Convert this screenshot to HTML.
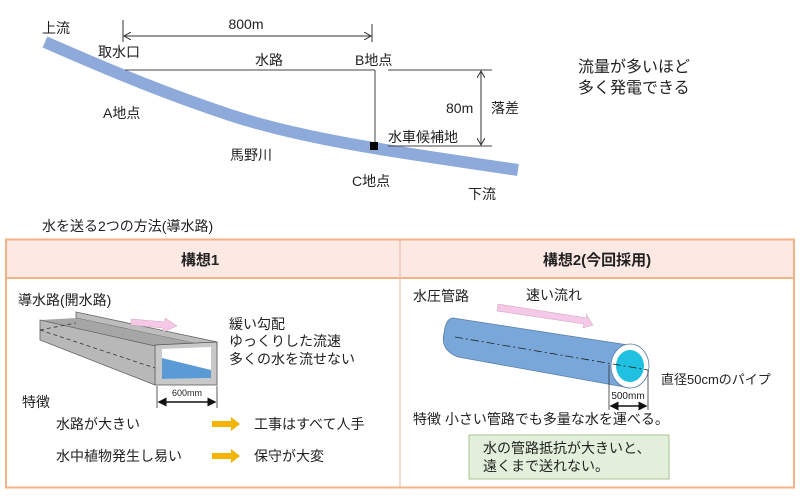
<!DOCTYPE html>
<html><head><meta charset="utf-8"><style>
body{margin:0;background:#fff;width:800px;height:493px;overflow:hidden;font-family:"Liberation Sans","Noto Sans CJK JP",sans-serif;}
svg text{font-family:"Liberation Sans","Noto Sans CJK JP",sans-serif;fill:#222;}
</style></head><body>
<svg width="800" height="493" viewBox="0 0 800 493" xmlns="http://www.w3.org/2000/svg">
<defs>
<marker id="ah" markerWidth="8" markerHeight="8" refX="7" refY="4" orient="auto"><path d="M0,0 L7,4 L0,8" fill="none" stroke="#333" stroke-width="1"/></marker>
<marker id="ahs" markerWidth="8" markerHeight="8" refX="1" refY="4" orient="auto"><path d="M8,0 L1,4 L8,8" fill="none" stroke="#333" stroke-width="1"/></marker>
<marker id="ab" markerWidth="6" markerHeight="6" refX="5" refY="3" orient="auto"><path d="M0,0 L6,3 L0,6z" fill="#111"/></marker>
<marker id="abs" markerWidth="6" markerHeight="6" refX="1" refY="3" orient="auto"><path d="M6,0 L0,3 L6,6z" fill="#111"/></marker>
</defs>
<path d="M45,42 C120,75 170,95 230,115 C300,138 380,150 518,170" fill="none" stroke="#8eaadb" stroke-width="12"/>
<text x="42" y="33" font-size="14">上流</text>
<text x="98" y="57" font-size="14">取水口</text>
<line x1="123" y1="20" x2="123" y2="42" stroke="#333"/>
<line x1="372" y1="24" x2="372" y2="42" stroke="#333"/>
<line x1="124" y1="36" x2="371" y2="36" stroke="#333" marker-end="url(#ah)" marker-start="url(#ahs)"/>
<text x="246" y="29" font-size="14" text-anchor="middle">800m</text>
<text x="255" y="65" font-size="14">水路</text>
<text x="355" y="65" font-size="14">B地点</text>
<line x1="125" y1="70" x2="375" y2="70" stroke="#444"/>
<line x1="375" y1="70" x2="375" y2="145" stroke="#444"/>
<rect x="370" y="142" width="8" height="8" fill="#000"/>
<line x1="388" y1="70" x2="492" y2="70" stroke="#444"/>
<line x1="388" y1="146" x2="492" y2="146" stroke="#444"/>
<line x1="481" y1="71" x2="481" y2="145" stroke="#333" marker-end="url(#ah)" marker-start="url(#ahs)"/>
<text x="446" y="113" font-size="14">80m</text>
<text x="491" y="113" font-size="14">落差</text>
<text x="388" y="142" font-size="14">水車候補地</text>
<text x="103" y="118" font-size="14">A地点</text>
<text x="230" y="160" font-size="14">馬野川</text>
<text x="352" y="186" font-size="14">C地点</text>
<text x="468" y="199" font-size="14">下流</text>
<text x="578" y="72" font-size="16">流量が多いほど</text>
<text x="578" y="93" font-size="16">多く発電できる</text>
<text x="42" y="231" font-size="14">水を送る2つの方法(導水路)</text>
<rect x="6" y="239.5" width="788" height="38" fill="#fde9e3"/>
<rect x="6" y="239.5" width="788" height="248" fill="none" stroke="#f4b183" stroke-width="2"/>
<line x1="6" y1="278" x2="794" y2="278" stroke="#f4b183" stroke-width="2"/>
<line x1="400" y1="239" x2="400" y2="488" stroke="#e3b8a4" stroke-width="1"/>
<text x="200" y="265" font-size="15" font-weight="bold" text-anchor="middle">構想1</text>
<text x="597" y="265" font-size="15" font-weight="bold" text-anchor="middle">構想2(今回採用)</text>
<!-- left cell: channel -->
<text x="18" y="305" font-size="14">導水路(開水路)</text>
<polygon points="76,312 217,342 217,348 76,318" fill="#bdbdbd" stroke="#666" stroke-width="0.8"/>
<polygon points="40,320 76,318 217,348 162,350" fill="#a6a6a6"/>
<polygon points="155,345 217,342 217,385 155,385" fill="#c8c8c8" stroke="#555" stroke-width="0.8"/>
<polygon points="162,349 211,347 211,378 162,379" fill="#fff"/>
<polygon points="162,358 211,370 211,378 162,379" fill="#5b9bd5"/>
<polygon points="40,320 155,346 155,385 40,340" fill="#b8b8b8" stroke="#666" stroke-width="0.8"/>
<line x1="40" y1="330" x2="155" y2="368" stroke="#333" stroke-dasharray="4,3" stroke-width="0.8"/>
<line x1="40" y1="330" x2="76" y2="323" stroke="#333" stroke-dasharray="4,3" stroke-width="0.8"/>
<path d="M131,319 L165,322 L165,318 L177,326 L163,332 L163,328 L131,325z" fill="#f6c8e8" stroke="#c9a3c0" stroke-width="0.5"/>
<text x="229" y="329" font-size="14">緩い勾配</text>
<text x="229" y="346" font-size="14">ゆっくりした流速</text>
<text x="229" y="364" font-size="14">多くの水を流せない</text>
<line x1="157" y1="386" x2="157" y2="408" stroke="#333" stroke-width="0.8"/>
<line x1="217" y1="386" x2="217" y2="408" stroke="#333" stroke-width="0.8"/>
<line x1="159" y1="402" x2="215" y2="402" stroke="#111" stroke-width="1.5" marker-end="url(#ab)" marker-start="url(#abs)"/>
<text x="187" y="396" font-size="9" text-anchor="middle">600mm</text>
<text x="22" y="407" font-size="14">特徴</text>
<text x="56" y="429" font-size="14">水路が大きい</text>
<text x="56" y="461" font-size="14">水中植物発生し易い</text>
<polygon points="212,421 231,421 231,417 240,424 231,431 231,427 212,427" fill="#f4b400"/>
<polygon points="212,453 231,453 231,449 240,456 231,463 231,459 212,459" fill="#f4b400"/>
<text x="254" y="429" font-size="14">工事はすべて人手</text>
<text x="254" y="461" font-size="14">保守が大変</text>
<!-- right cell -->
<text x="413" y="301" font-size="14">水圧管路</text>
<text x="526" y="300" font-size="14">速い流れ</text>
<path d="M498,304 L587,318 L586,314 L593,325 L583,328 L584,324 L497,311z" fill="#f6c8e8" stroke="#c9a3c0" stroke-width="0.5"/>
<path d="M453,318 L628,345 L630,388 L458,357 Q440,350 444,333 Q446,318 453,318z" fill="#79a7d9" stroke="#5b7fa8" stroke-width="0.8"/>
<ellipse cx="630" cy="366" rx="19" ry="22" fill="#fff" stroke="#5b7fa8" stroke-width="0.8"/>
<ellipse cx="630" cy="366" rx="14" ry="16" fill="#1fc0e0"/>
<line x1="455" y1="337" x2="648" y2="370" stroke="#222" stroke-dasharray="8,3,2,3" stroke-width="0.8"/>
<line x1="609" y1="365" x2="609" y2="410" stroke="#333" stroke-width="0.8"/>
<line x1="648" y1="370" x2="648" y2="410" stroke="#333" stroke-width="0.8"/>
<line x1="611" y1="406" x2="646" y2="406" stroke="#111" stroke-width="1.5" marker-end="url(#ab)" marker-start="url(#abs)"/>
<text x="628" y="399" font-size="10" text-anchor="middle">500mm</text>
<text x="661" y="384" font-size="13">直径50cmのパイプ</text>
<text x="413" y="424" font-size="14">特徴  小さい管路でも多量な水を運べる。</text>
<rect x="469" y="435" width="200" height="44" fill="#e2efda" stroke="#a9c28f" stroke-width="1"/>
<text x="483" y="453" font-size="14">水の管路抵抗が大きいと、</text>
<text x="483" y="471" font-size="14">遠くまで送れない。</text>
</svg>
</body></html>
